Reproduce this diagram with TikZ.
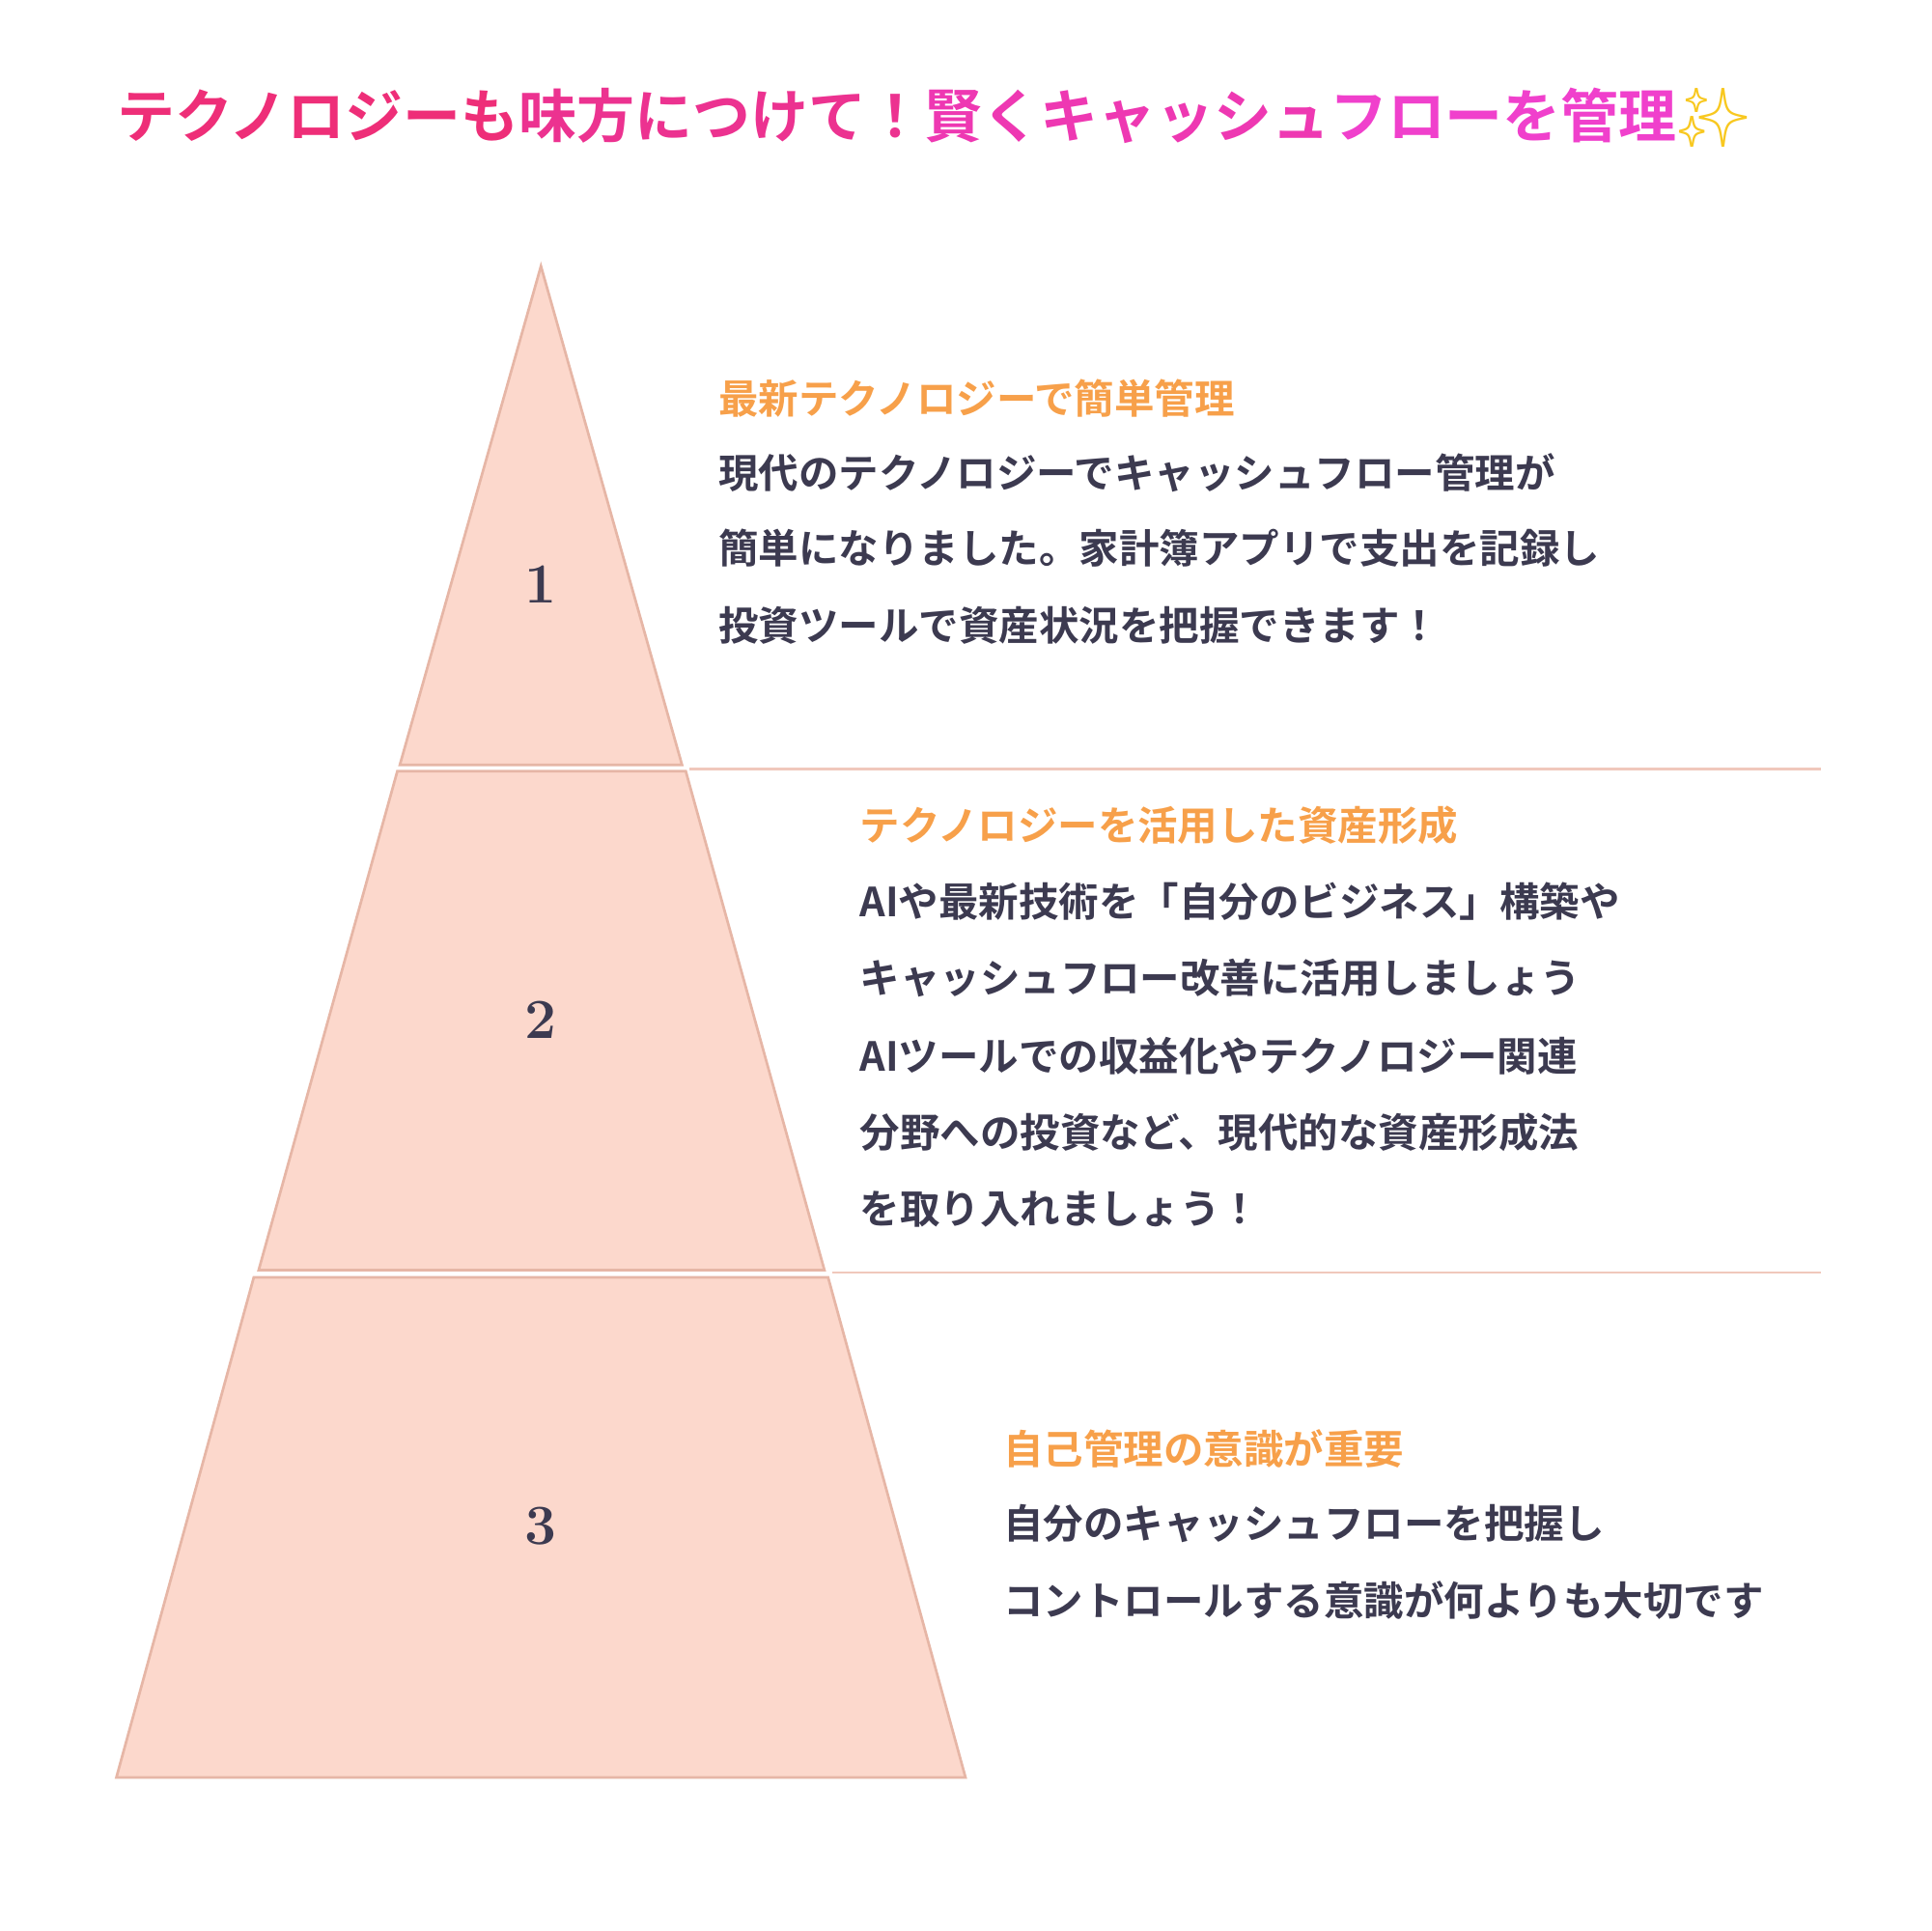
\documentclass[tikz,border=0pt]{standalone}
\usepackage{fontspec}
\newfontfamily\jp{Noto Sans CJK JP}[BoldFont={* Bold}]
\newfontfamily\emj{Noto Emoji}
\definecolor{tierfill}{HTML}{FCD8CC}
\definecolor{tierline}{HTML}{E6B6A6}
\definecolor{sepline}{HTML}{F0C8BC}
\definecolor{headc}{HTML}{F7A04A}
\definecolor{bodyc}{HTML}{3C3A50}
\definecolor{tA}{HTML}{EE2E78}
\definecolor{tB}{HTML}{EC3290}
\definecolor{tC}{HTML}{EE38B2}
\definecolor{tD}{HTML}{F040CC}
\definecolor{spark}{HTML}{F8C820}
\begin{document}
\begin{tikzpicture}[x=0.01cm,y=-0.01cm,
  tier/.style={fill=tierfill,draw=tierline,line width=0.6pt},
  sep/.style={draw=sepline,line width=0.6pt},
  num/.style={font=\bfseries\fontsize{13}{15}\selectfont,text=bodyc},
  head/.style={anchor=west,inner sep=0,font=\jp\bfseries\fontsize{9.2}{11}\selectfont,text=headc},
  body/.style={anchor=west,inner sep=0,font=\jp\bfseries\fontsize{9.2}{11}\selectfont,text=bodyc}]
\useasboundingbox (0,0) rectangle (1560,1560);
\node[anchor=west,inner sep=0,font=\jp\bfseries\fontsize{13.3}{15}\selectfont] (title) at (94,95)
 {\textcolor{tA}{テクノロジーも}\textcolor{tB}{味方につけて！}\textcolor{tC}{賢くキャッシュ}\textcolor{tD}{フローを管理}\textcolor{spark}{\emj ✨}};
\draw[tier] (437,215) -- (551,618) -- (323,618) -- cycle;
\draw[tier] (321,623) -- (554,623) -- (666,1026) -- (209,1026) -- cycle;
\draw[tier] (205,1032) -- (669,1032) -- (780,1436) -- (94,1436) -- cycle;
\coordinate (s1a) at (557,621); \coordinate (s1b) at (1471,621);
\coordinate (s2a) at (672,1028); \coordinate (s2b) at (1471,1028);
\draw[sep] (s1a) -- (s1b);
\draw[sep] (s2a) -- (s2b);
\node[num] (n1) at (437,472) {1};
\node[num] (n2) at (437,824) {2};
\node[num] (n3) at (437,1233) {3};
\node[head] (h1) at (580,322) {最新テクノロジーで簡単管理};
\node[body] (b11) at (580,382) {現代のテクノロジーでキャッシュフロー管理が};
\node[body] (b12) at (580,443) {簡単になりました。家計簿アプリで支出を記録し};
\node[body] (b13) at (580,505) {投資ツールで資産状況を把握できます！};
\node[head] (h2) at (694,667) {テクノロジーを活用した資産形成};
\node[body] (b21) at (694,728) {AIや最新技術を「自分のビジネス」構築や};
\node[body] (b22) at (694,790) {キャッシュフロー改善に活用しましょう};
\node[body] (b23) at (694,853) {AIツールでの収益化やテクノロジー関連};
\node[body] (b24) at (694,915) {分野への投資など、現代的な資産形成法};
\node[body] (b25) at (694,977) {を取り入れましょう！};
\node[head] (h3) at (810,1170) {自己管理の意識が重要};
\node[body] (b31) at (810,1231) {自分のキャッシュフローを把握し};
\node[body] (b32) at (810,1293) {コントロールする意識が何よりも大切です};
\end{tikzpicture}
\end{document}
